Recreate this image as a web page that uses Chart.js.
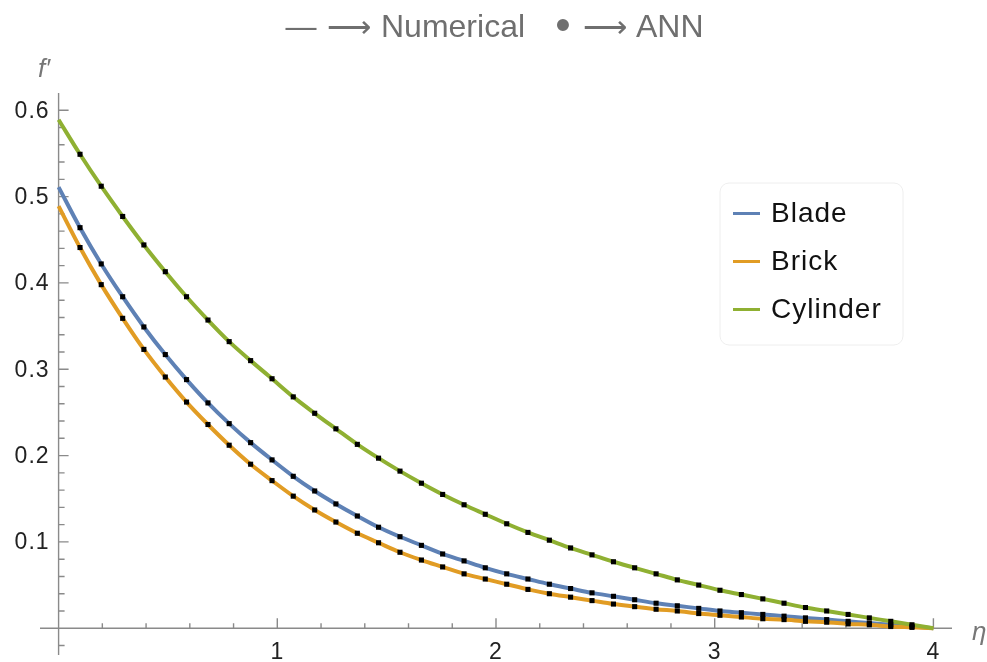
<!DOCTYPE html>
<html>
<head>
<meta charset="utf-8">
<script src="https://cdn.jsdelivr.net/npm/chart.js@4.4.0/dist/chart.umd.min.js"></script>
<style>
  html, body { margin: 0; padding: 0; background: #fff; }
  #wrap { width: 987px; height: 662px; position: relative; }
</style>
</head>
<body>
<div id="wrap"><canvas id="chart"></canvas></div>
<script>
// eta positions of the ANN points
const etaANN = [0.098, 0.195, 0.293, 0.390, 0.488, 0.585, 0.683, 0.780, 0.878, 0.976,
  1.073, 1.171, 1.268, 1.366, 1.463, 1.561, 1.659, 1.756, 1.854, 1.951,
  2.049, 2.146, 2.244, 2.341, 2.439, 2.537, 2.634, 2.732, 2.829, 2.927,
  3.024, 3.122, 3.220, 3.317, 3.415, 3.512, 3.610, 3.707, 3.805, 3.902];

const bladeANN = [0.464, 0.422, 0.384, 0.349, 0.317, 0.288, 0.261, 0.237, 0.215, 0.195,
  0.176, 0.159, 0.144, 0.130, 0.117, 0.106, 0.096, 0.086, 0.078, 0.070,
  0.063, 0.057, 0.051, 0.046, 0.041, 0.037, 0.033, 0.029, 0.026, 0.023,
  0.020, 0.018, 0.016, 0.014, 0.012, 0.010, 0.008, 0.006, 0.004, 0.002];
const brickANN = [0.441, 0.398, 0.359, 0.323, 0.291, 0.262, 0.236, 0.212, 0.190, 0.171,
  0.153, 0.137, 0.123, 0.110, 0.099, 0.088, 0.079, 0.071, 0.063, 0.057,
  0.051, 0.045, 0.040, 0.036, 0.032, 0.028, 0.025, 0.022, 0.020, 0.017,
  0.015, 0.013, 0.011, 0.010, 0.008, 0.007, 0.005, 0.004, 0.002, 0.001];
const cylinderANN = [0.549, 0.512, 0.477, 0.444, 0.413, 0.384, 0.357, 0.332, 0.310, 0.289,
  0.268, 0.249, 0.231, 0.213, 0.197, 0.182, 0.168, 0.155, 0.143, 0.132,
  0.121, 0.111, 0.102, 0.093, 0.085, 0.077, 0.070, 0.063, 0.056, 0.050,
  0.044, 0.039, 0.034, 0.029, 0.024, 0.020, 0.016, 0.012, 0.008, 0.004];

// numerical curves: value at eta = 0, then through the same points, 0 at eta = 4
const etaWall = 0, etaEdge = 4;
const bladeWall = 0.511, brickWall = 0.489, cylinderWall = 0.589;
const edgeValue = 0;

const seriesNames = ['Blade', 'Brick', 'Cylinder'];
const seriesColors = ['#5E81B5', '#E19C24', '#8FB032'];

const xTickLabels = ['1', '2', '3', '4'];
const yTickLabels = ['0.1', '0.2', '0.3', '0.4', '0.5', '0.6'];

const axisColor = '#8a8a8a';
const fontFam = '"Liberation Sans", Arial, sans-serif';

function pts(xs, ys) { return xs.map((v, i) => ({ x: v, y: ys[i] })); }
function numPts(wall, ann) {
  return pts([etaWall, ...etaANN, etaEdge], [wall, ...ann, edgeValue]);
}

const annSets = [bladeANN, brickANN, cylinderANN];
const wallVals = [bladeWall, brickWall, cylinderWall];

const datasets = [];
seriesNames.forEach((name, i) => {
  datasets.push({
    label: name,
    data: numPts(wallVals[i], annSets[i]),
    borderColor: seriesColors[i],
    borderWidth: 4,
    pointRadius: 0,
    cubicInterpolationMode: 'monotone',
    fill: false,
    order: 3 - i
  });
});
annSets.forEach((ann, i) => {
  datasets.push({
    label: seriesNames[i] + ' ANN',
    data: pts(etaANN, ann),
    showLine: false,
    pointStyle: 'rect',
    pointRadius: 3.6,
    pointBackgroundColor: '#000',
    pointBorderWidth: 0,
    order: 0
  });
});

const axesPlugin = {
  id: 'mmaAxes',
  beforeDatasetsDraw(chart) {
    const { ctx, scales: { x, y } } = chart;
    const x0 = x.getPixelForValue(0), y0 = y.getPixelForValue(0);
    ctx.save();
    ctx.strokeStyle = axisColor;
    ctx.lineWidth = 1.4;
    ctx.beginPath();
    ctx.moveTo(x.left, y0); ctx.lineTo(x.right, y0);
    ctx.moveTo(x0, y.top); ctx.lineTo(x0, y.bottom);
    // y ticks, every 0.02, long at each 0.1
    for (let k = -1; k <= 30; k++) {
      if (k === 0) continue;
      const p = y.getPixelForValue(k * 0.02);
      const len = k % 5 === 0 ? 10 : 6;
      ctx.moveTo(x0, p); ctx.lineTo(x0 + len, p);
    }
    // x ticks, every 0.2, long at integers
    for (let k = 1; k <= 20; k++) {
      const p = x.getPixelForValue(k * 0.2);
      const len = k % 5 === 0 ? 10 : 5;
      ctx.moveTo(p, y0); ctx.lineTo(p, y0 - len);
    }
    ctx.stroke();

    ctx.fillStyle = '#222';
    ctx.font = '23px ' + fontFam;
    ctx.letterSpacing = '1px';
    ctx.textAlign = 'right';
    ctx.textBaseline = 'middle';
    yTickLabels.forEach((t) => {
      ctx.fillText(t, x0 - 9, y.getPixelForValue(parseFloat(t)) + 1);
    });
    ctx.textAlign = 'center';
    ctx.textBaseline = 'alphabetic';
    xTickLabels.forEach((t) => {
      ctx.fillText(t, x.getPixelForValue(parseFloat(t)), y0 + 31);
    });
    ctx.letterSpacing = '0px';

    // axis labels
    ctx.fillStyle = '#777';
    ctx.font = 'italic 26px ' + fontFam;
    ctx.textAlign = 'left';
    ctx.fillText('f\u2032', 38, 77);
    ctx.fillText('\u03B7', 972, y0 + 12);
    ctx.restore();
  },
  afterDraw(chart) {
    const { ctx } = chart;
    ctx.save();
    // title
    ctx.fillStyle = '#6f6f6f';
    ctx.textBaseline = 'middle';
    ctx.textAlign = 'center';
    ctx.font = '31px ' + fontFam;
    ctx.fillText('\u2014', 301, 28);
    ctx.fillText('\u27F6', 349, 28);
    ctx.fillText('\u27F6', 605, 28);
    ctx.font = '44px ' + fontFam;
    ctx.fillText('\u2022', 563, 28);
    ctx.textAlign = 'left';
    ctx.font = '32px ' + fontFam;
    ctx.fillText('Numerical', 381, 28);
    ctx.fillText('ANN', 636, 28);

    // legend
    ctx.beginPath();
    ctx.roundRect(720, 183, 183, 162, 9);
    ctx.fillStyle = '#fff';
    ctx.fill();
    ctx.strokeStyle = '#eeeeee';
    ctx.lineWidth = 1;
    ctx.stroke();
    const rowY = [213.5, 261.5, 309.5];
    ctx.font = '28px ' + fontFam;
    ctx.letterSpacing = '1px';
    ctx.textBaseline = 'middle';
    seriesNames.forEach((name, i) => {
      ctx.strokeStyle = seriesColors[i];
      ctx.lineWidth = 3;
      ctx.beginPath();
      ctx.moveTo(733, rowY[i]); ctx.lineTo(760, rowY[i]);
      ctx.stroke();
      ctx.fillStyle = '#111';
      ctx.fillText(name, 771, rowY[i] + 1);
    });
    ctx.restore();
  }
};

new Chart(document.getElementById('chart'), {
  type: 'line',
  data: { datasets },
  options: {
    responsive: true,
    maintainAspectRatio: false,
    animation: false,
    layout: { padding: { left: 40, right: 35, top: 93, bottom: 7 } },
    scales: {
      x: { type: 'linear', min: -0.085, max: 4.085, display: false },
      y: { type: 'linear', min: -0.031, max: 0.62, display: false }
    },
    plugins: {
      legend: { display: false },
      title: { display: false },
      tooltip: { enabled: false }
    }
  },
  plugins: [axesPlugin]
});
</script>
</body>
</html>
